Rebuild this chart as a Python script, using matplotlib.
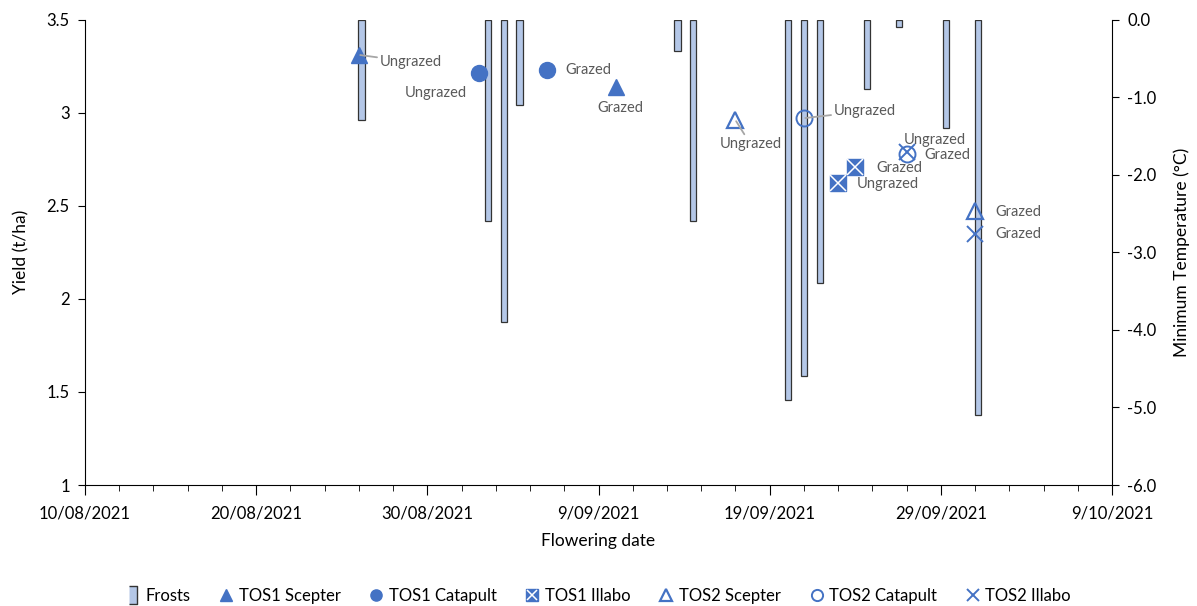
import numpy as np
import matplotlib
matplotlib.use("Agg")
import matplotlib.pyplot as plt
import matplotlib.dates as mdates
from matplotlib.lines import Line2D
from matplotlib.legend_handler import HandlerTuple
from matplotlib.ticker import FuncFormatter, FixedLocator

plt.rcParams['font.family'] = ['Lato', 'DejaVu Sans']

# Daily minimum temperature on frost days (°C)
frost_dates = np.array(['2021-08-26', '2021-09-03', '2021-09-04', '2021-09-05',
                        '2021-09-15', '2021-09-16', '2021-09-22', '2021-09-23',
                        '2021-09-24', '2021-09-27', '2021-09-29', '2021-10-02',
                        '2021-10-04'], dtype='datetime64[D]')
frost_min = [-1.3, -2.6, -3.9, -1.1, -0.4, -2.6, -4.9, -4.6, -3.4, -0.9, -0.1, -1.4, -5.1]
frost_record = np.array(['2021-08-09', '2021-10-12'], dtype='datetime64[D]')

# Flowering date and yield (t/ha), ordered [Ungrazed, Grazed]
treatments = ['Ungrazed', 'Grazed']
tos1_scepter_dates = np.array(['2021-08-26', '2021-09-10'], dtype='datetime64[D]')
tos1_scepter_yield = [3.31, 3.14]
tos1_catapult_dates = np.array(['2021-09-02', '2021-09-06'], dtype='datetime64[D]')
tos1_catapult_yield = [3.21, 3.23]
tos1_illabo_dates = np.array(['2021-09-23', '2021-09-24'], dtype='datetime64[D]')
tos1_illabo_yield = [2.62, 2.71]
tos2_scepter_dates = np.array(['2021-09-17', '2021-10-01'], dtype='datetime64[D]')
tos2_scepter_yield = [2.96, 2.47]
tos2_catapult_dates = np.array(['2021-09-21', '2021-09-27'], dtype='datetime64[D]')
tos2_catapult_yield = [2.97, 2.78]
tos2_illabo_dates = np.array(['2021-09-27', '2021-10-01'], dtype='datetime64[D]')
tos2_illabo_yield = [2.79, 2.35]

x_range = np.array(['2021-08-10', '2021-10-09'], dtype='datetime64[D]')
yield_ticks = [1, 1.5, 2, 2.5, 3, 3.5]
temp_ticks = [0, -1, -2, -3, -4, -5, -6]

blue = '#4472C4'
grey_text = '#595959'
leader = '#A6A6A6'

fig = plt.figure(figsize=(11.97, 6.06), dpi=100)
pos = [85 / 1197, 1 - 485 / 606, (1112 - 85) / 1197, (485 - 19.5) / 606]

# Frost bars on their own daily axis, drawn beneath the yield markers
axf = fig.add_axes(pos, label='frost')
ax = fig.add_axes(pos, label='yield')
axf.set_zorder(0)
ax.set_zorder(1)
ax.patch.set_visible(False)

bars = axf.bar(mdates.date2num(frost_dates), frost_min, width=0.4,
               color='#B4C7E7', edgecolor='#333333', linewidth=0.9, label='Frosts')
d0, d1 = mdates.date2num(frost_record)
axf.set_xlim(d0 - 0.5, d1 + 0.5)
axf.set_ylim(-6, 0)
axf.xaxis.set_visible(False)
axf.yaxis.tick_right()
axf.yaxis.set_label_position('right')
axf.set_yticks(temp_ticks)
axf.yaxis.set_major_formatter(FuncFormatter(lambda v, p: f"{v:.1f}"))
for s in ('left', 'top', 'bottom'):
    axf.spines[s].set_visible(False)
axf.spines['right'].set_color('#000000')
axf.tick_params(axis='y', direction='out', length=5, labelsize=12, pad=6)
axf.set_ylabel('Minimum Temperature (°C)', fontsize=12.5, labelpad=12)

# Yield markers
dn = mdates.date2num
h_s1 = ax.plot(dn(tos1_scepter_dates), tos1_scepter_yield, ls='none', marker='^',
               ms=12, color=blue, label='TOS1 Scepter')[0]
h_c1 = ax.plot(dn(tos1_catapult_dates), tos1_catapult_yield, ls='none', marker='o',
               ms=11.5, color=blue, label='TOS1 Catapult')[0]
h_i1a = ax.plot(dn(tos1_illabo_dates), tos1_illabo_yield, ls='none', marker='s',
                ms=12, color=blue)[0]
h_i1b = ax.plot(dn(tos1_illabo_dates), tos1_illabo_yield, ls='none', marker='x',
                ms=11, mew=1.1, color='white')[0]
h_s2 = ax.plot(dn(tos2_scepter_dates), tos2_scepter_yield, ls='none', marker='^',
               ms=12, mfc='none', mec=blue, mew=1.6, label='TOS2 Scepter')[0]
h_c2 = ax.plot(dn(tos2_catapult_dates), tos2_catapult_yield, ls='none', marker='o',
               ms=11.5, mfc='none', mec=blue, mew=1.4, label='TOS2 Catapult')[0]
h_i2 = ax.plot(dn(tos2_illabo_dates), tos2_illabo_yield, ls='none', marker='x',
               ms=12, mew=1.4, color=blue, label='TOS2 Illabo')[0]

# Treatment labels: offsets in pixels from each marker, and whether a leader line is shown
label_layout = {
    'tos1_scepter': [((52, -7), True), ((5, -21), False)],
    'tos1_catapult': [((-43, -20), False), ((41, 0), False)],
    'tos1_illabo': [((50, -1), False), ((44, -1), False)],
    'tos2_scepter': [((15, -24), True), ((43, -1), False)],
    'tos2_catapult': [((61, 7), True), ((41, -1), False)],
    'tos2_illabo': [((28, 12), False), ((43, 0), False)],
}
series = {
    'tos1_scepter': (tos1_scepter_dates, tos1_scepter_yield),
    'tos1_catapult': (tos1_catapult_dates, tos1_catapult_yield),
    'tos1_illabo': (tos1_illabo_dates, tos1_illabo_yield),
    'tos2_scepter': (tos2_scepter_dates, tos2_scepter_yield),
    'tos2_catapult': (tos2_catapult_dates, tos2_catapult_yield),
    'tos2_illabo': (tos2_illabo_dates, tos2_illabo_yield),
}
for key, (dates, ylds) in series.items():
    for (date, yv, lab, ((ox, oy), line)) in zip(dates, ylds, treatments, label_layout[key]):
        kw = {}
        if line:
            kw['arrowprops'] = dict(arrowstyle='-', color=leader, lw=1.3,
                                    shrinkA=0, shrinkB=1)
        ax.annotate(lab, xy=(dn(date), yv), xytext=(ox, oy), textcoords='offset pixels',
                    ha='center', va='center', fontsize=10.5, color=grey_text, **kw)

# Axes formatting
x0, x1 = dn(x_range)
ax.set_xlim(x0, x1)
ax.xaxis.set_major_locator(FixedLocator(np.arange(x0, x1 + 1, 10)))
ax.xaxis.set_minor_locator(FixedLocator(np.arange(x0, x1 + 1, 2)))
ax.xaxis.set_major_formatter(FuncFormatter(
    lambda v, p: (lambda d: f"{d.day}/{d.month:02d}/{d.year}")(mdates.num2date(v))))
ax.set_ylim(1, 3.5)
ax.set_yticks(yield_ticks)
ax.yaxis.set_major_formatter(FuncFormatter(lambda v, p: f"{v:g}"))
for s in ('top', 'right'):
    ax.spines[s].set_visible(False)
ax.tick_params(axis='x', which='major', direction='out', length=7, labelsize=12, pad=8)
ax.tick_params(axis='x', which='minor', direction='out', length=4)
ax.tick_params(axis='y', direction='out', length=5, labelsize=12, pad=6)
ax.set_xlabel('Flowering date', fontsize=12.5, labelpad=8)
ax.set_ylabel('Yield (t/ha)', fontsize=12.5, labelpad=12)

# Legend
frost_handle = Line2D([], [], ls='none', marker=[(-0.45, -1), (0.45, -1), (0.45, 1), (-0.45, 1)],
                      ms=19, mfc='#B4C7E7', mec='#333333', mew=1.0)
handles = [frost_handle, h_s1, h_c1, (h_i1a, h_i1b), h_s2, h_c2, h_i2]
labels = ['Frosts', 'TOS1 Scepter', 'TOS1 Catapult', 'TOS1 Illabo',
          'TOS2 Scepter', 'TOS2 Catapult', 'TOS2 Illabo']
fig.legend(handles, labels, loc='center', bbox_to_anchor=(0.5, 1 - 596 / 606), ncol=7,
           frameon=False, fontsize=12, markerscale=0.7, handlelength=0.8,
           handletextpad=0.35, columnspacing=1.75,
           handler_map={tuple: HandlerTuple(ndivide=1)})

fig.savefig('out.png', dpi=100)
